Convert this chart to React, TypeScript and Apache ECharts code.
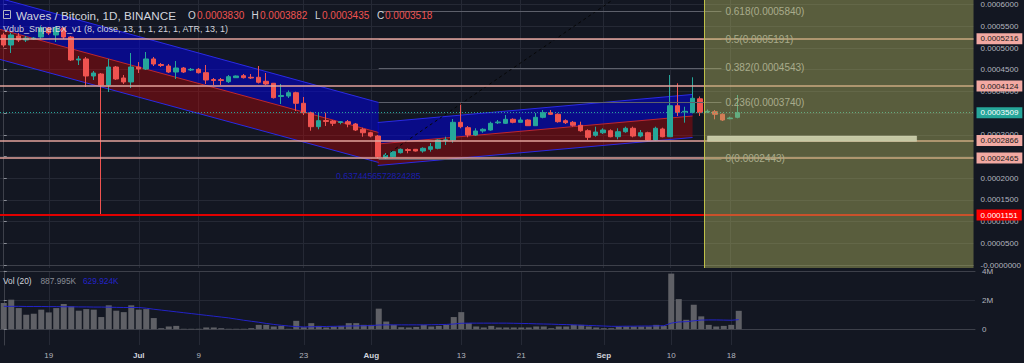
import React, { useEffect, useRef } from 'react';
import * as echarts from 'echarts';

// ---------- data ----------
const N_DAYS = 130;
const START_UTC = Date.UTC(2018, 5, 13);
const categories: string[] = Array.from({ length: N_DAYS }, (_, i) =>
  new Date(START_UTC + i * 86400000).toISOString().slice(0, 10)
);

const tickDates = ['2018-06-19', '2018-07-01', '2018-07-09', '2018-07-23', '2018-08-01', '2018-08-13', '2018-08-21', '2018-09-01', '2018-09-10', '2018-09-18'];
const tickLabels = ['19', 'Jul', '9', '23', 'Aug', '13', '21', 'Sep', '10', '18'];
const monthLabels = ['Jul', 'Aug', 'Sep'];

// [open, close, low, high]
const ohlc: number[][] = [
  [0.0005300, 0.0005069, 0.0005023, 0.0005346],
  [0.0005069, 0.0005300, 0.0004885, 0.0005346],
  [0.0005276, 0.0005184, 0.0005138, 0.0005346],
  [0.0005184, 0.0005230, 0.0005138, 0.0005276],
  [0.0005207, 0.0005230, 0.0005184, 0.0005253],
  [0.0005253, 0.0005461, 0.0005207, 0.0005507],
  [0.0005461, 0.0005346, 0.0005300, 0.0005484],
  [0.0005300, 0.0005461, 0.0005138, 0.0005507],
  [0.0005461, 0.0005253, 0.0005207, 0.0005484],
  [0.0005253, 0.0004724, 0.0004700, 0.0005276],
  [0.0004724, 0.0004747, 0.0004608, 0.0004816],
  [0.0004747, 0.0004355, 0.0004101, 0.0004793],
  [0.0004355, 0.0004424, 0.0004263, 0.0004470],
  [0.0004401, 0.0004147, 0.0001151, 0.0004424],
  [0.0004147, 0.0004562, 0.0003986, 0.0004747],
  [0.0004562, 0.0004286, 0.0004263, 0.0004585],
  [0.0004309, 0.0004217, 0.0004171, 0.0004378],
  [0.0004217, 0.0004562, 0.0004078, 0.0004885],
  [0.0004562, 0.0004516, 0.0004424, 0.0004677],
  [0.0004516, 0.0004747, 0.0004493, 0.0004908],
  [0.0004747, 0.0004631, 0.0004585, 0.0004793],
  [0.0004620, 0.0004597, 0.0004562, 0.0004654],
  [0.0004585, 0.0004447, 0.0004424, 0.0004631],
  [0.0004447, 0.0004539, 0.0004286, 0.0004700],
  [0.0004539, 0.0004447, 0.0004424, 0.0004562],
  [0.0004493, 0.0004509, 0.0004470, 0.0004539],
  [0.0004509, 0.0004431, 0.0004412, 0.0004539],
  [0.0004431, 0.0004263, 0.0004171, 0.0004608],
  [0.0004274, 0.0004251, 0.0004147, 0.0004309],
  [0.0004270, 0.0004251, 0.0004147, 0.0004309],
  [0.0004224, 0.0004339, 0.0004194, 0.0004378],
  [0.0004316, 0.0004355, 0.0004309, 0.0004366],
  [0.0004362, 0.0004316, 0.0004297, 0.0004401],
  [0.0004325, 0.0004309, 0.0004286, 0.0004401],
  [0.0004325, 0.0004210, 0.0004182, 0.0004585],
  [0.0004233, 0.0004171, 0.0004147, 0.0004424],
  [0.0004187, 0.0003855, 0.0003836, 0.0004194],
  [0.0003882, 0.0003906, 0.0003710, 0.0004171],
  [0.0003894, 0.0003970, 0.0003848, 0.0004021],
  [0.0003970, 0.0003726, 0.0003548, 0.0003993],
  [0.0003726, 0.0003509, 0.0003456, 0.0003871],
  [0.0003509, 0.0003187, 0.0003094, 0.0003532],
  [0.0003187, 0.0003325, 0.0003127, 0.0003509],
  [0.0003329, 0.0003306, 0.0003203, 0.0003509],
  [0.0003318, 0.0003265, 0.0003203, 0.0003341],
  [0.0003283, 0.0003302, 0.0003242, 0.0003318],
  [0.0003302, 0.0003249, 0.0003173, 0.0003341],
  [0.0003249, 0.0003111, 0.0003088, 0.0003272],
  [0.0003127, 0.0003048, 0.0002956, 0.0003164],
  [0.0003048, 0.0002972, 0.0002942, 0.0003071],
  [0.0002972, 0.0002495, 0.0002460, 0.0002995],
  [0.0002470, 0.0002535, 0.0002443, 0.0002581],
  [0.0002495, 0.0002611, 0.0002477, 0.0002638],
  [0.0002588, 0.0002666, 0.0002569, 0.0002684],
  [0.0002661, 0.0002638, 0.0002574, 0.0002689],
  [0.0002666, 0.0002627, 0.0002615, 0.0002673],
  [0.0002627, 0.0002689, 0.0002588, 0.0002712],
  [0.0002666, 0.0002726, 0.0002611, 0.0002811],
  [0.0002689, 0.0002880, 0.0002666, 0.0002896],
  [0.0002869, 0.0002885, 0.0002765, 0.0002956],
  [0.0002880, 0.0003288, 0.0002818, 0.0003364],
  [0.0003288, 0.0003187, 0.0003150, 0.0003726],
  [0.0003164, 0.0002995, 0.0002942, 0.0003203],
  [0.0002995, 0.0003088, 0.0002972, 0.0003150],
  [0.0003088, 0.0003127, 0.0003048, 0.0003150],
  [0.0003111, 0.0003265, 0.0003094, 0.0003302],
  [0.0003276, 0.0003295, 0.0003249, 0.0003341],
  [0.0003265, 0.0003357, 0.0003249, 0.0003456],
  [0.0003357, 0.0003288, 0.0003265, 0.0003380],
  [0.0003288, 0.0003341, 0.0003279, 0.0003403],
  [0.0003341, 0.0003210, 0.0003203, 0.0003357],
  [0.0003210, 0.0003403, 0.0003203, 0.0003502],
  [0.0003403, 0.0003509, 0.0003380, 0.0003571],
  [0.0003509, 0.0003472, 0.0003456, 0.0003571],
  [0.0003472, 0.0003302, 0.0003279, 0.0003495],
  [0.0003325, 0.0003279, 0.0003249, 0.0003357],
  [0.0003288, 0.0003219, 0.0003187, 0.0003318],
  [0.0003219, 0.0003094, 0.0003071, 0.0003302],
  [0.0003094, 0.0002942, 0.0002880, 0.0003127],
  [0.0002988, 0.0003064, 0.0002956, 0.0003187],
  [0.0003048, 0.0003111, 0.0003018, 0.0003150],
  [0.0003094, 0.0002956, 0.0002942, 0.0003127],
  [0.0002956, 0.0003071, 0.0002896, 0.0003150],
  [0.0003071, 0.0003150, 0.0003048, 0.0003187],
  [0.0003150, 0.0002972, 0.0002942, 0.0003187],
  [0.0002972, 0.0003048, 0.0002942, 0.0003111],
  [0.0003048, 0.0002880, 0.0002865, 0.0003071],
  [0.0002880, 0.0003150, 0.0002865, 0.0003187],
  [0.0003134, 0.0002956, 0.0002942, 0.0003164],
  [0.0002956, 0.0003670, 0.0002949, 0.0004378],
  [0.0003670, 0.0003518, 0.0003433, 0.0004187],
  [0.0003525, 0.0003541, 0.0003279, 0.0003647],
  [0.0003518, 0.0003841, 0.0003495, 0.0004325],
  [0.0003830, 0.0003518, 0.0003435, 0.0003882],
  [0.0003525, 0.0003541, 0.0003502, 0.0003583],
  [0.0003532, 0.0003472, 0.0003357, 0.0003571],
  [0.0003472, 0.0003341, 0.0003318, 0.0003495],
  [0.0003371, 0.0003387, 0.0003357, 0.0003417],
  [0.0003403, 0.0003509, 0.0003380, 0.0003917],
];

const volume: number[] = [
  1810000, 2040000, 1460000, 1000000, 1070000, 1350000, 1160000, 1460000, 1740000, 1580000,
  1280000, 1390000, 1350000, 840000, 1650000, 1280000, 1180000, 1650000, 1350000, 1390000,
  770000, 70000, 190000, 230000, 30000, 30000, 30000, 120000, 120000, 70000,
  30000, 30000, 30000, 70000, 300000, 300000, 190000, 230000, 30000, 580000,
  140000, 420000, 230000, 120000, 190000, 230000, 420000, 420000, 300000, 300000,
  1420000, 530000, 300000, 140000, 120000, 160000, 300000, 190000, 230000, 300000,
  840000, 1180000, 420000, 190000, 120000, 230000, 120000, 120000, 120000, 120000,
  120000, 190000, 190000, 70000, 190000, 190000, 300000, 300000, 190000, 120000,
  70000, 70000, 190000, 190000, 190000, 190000, 190000, 300000, 230000, 3840000,
  2080000, 650000, 1690000, 887995, 300000, 190000, 230000, 300000, 1270000,
];

const volumeMA: number[] = [
  1580000, 1580000, 1580000, 1570000, 1570000, 1570000, 1560000, 1560000, 1550000, 1550000,
  1540000, 1540000, 1530000, 1530000, 1520000, 1510000, 1500000, 1500000, 1500000, 1450000,
  1380000, 1320000, 1260000, 1200000, 1140000, 1080000, 1020000, 960000, 900000, 840000,
  780000, 700000, 620000, 550000, 480000, 400000, 330000, 270000, 220000, 180000,
  160000, 170000, 180000, 190000, 200000, 210000, 220000, 230000, 240000, 250000,
  290000, 300000, 300000, 300000, 300000, 300000, 300000, 310000, 320000, 330000,
  360000, 410000, 420000, 420000, 420000, 420000, 420000, 420000, 410000, 400000,
  390000, 370000, 360000, 350000, 330000, 320000, 300000, 280000, 260000, 240000,
  220000, 200000, 200000, 210000, 210000, 220000, 220000, 230000, 240000, 420000,
  500000, 520000, 580000, 629924, 640000, 640000, 630000, 620000, 660000,
];

const priceTicks = [0, 0.00005, 0.0001, 0.00015, 0.0002, 0.00025, 0.0003, 0.00035, 0.0004, 0.00045, 0.0005, 0.00055, 0.0006];
const volumeTicks = [0, 2000000, 4000000];
const priceMin = -0.0000069;
const priceMax = 0.0006106;
const volumeMin = -1090000;
const volumeMax = 4020000;

const salmonLevels = [0.0005216, 0.0004124, 0.0002866, 0.0002465];
const supportLevel = 0.0001151;
const lastPrice = 0.0003509;

// regression channels: [xStart, xEnd, topStart, midStart, botStart, topEnd, midEnd, botEnd]
const channels: number[][] = [
  [-0.5, 50.07, 0.0006143, 0.0005429, 0.0004737, 0.0003744, 0.0003053, 0.0002362],
  [49.94, 91.98, 0.0003283, 0.0002788, 0.0002293, 0.0003929, 0.0003433, 0.0002938],
];

const fibRatios = ['0', '0.236', '0.382', '0.5', '0.618'];
const fibPrices = [0.0002443, 0.0003740, 0.0004543, 0.0005191, 0.0005840];
const fibStart = 50.07;
const fibEnd = 95.84;
const trendLine = [[50.3, 0.0002443], [92, 0.0007372]];
const fibBox = [[93.58, 129.5, priceMin, priceMax]];
const highlightZone = [[93.97, 121.9, 0.000285, 0.000297]];

const gridTickIdx = tickDates.map((d) => categories.indexOf(d));
const X_MIN = -0.5;
const X_MAX = N_DAYS - 0.5;
// an off-screen anchor point so that marker-only series have dimensions
const anchorPoint = [[-100, -1e9]];

// ---------- styles ----------
const BG = '#131722';
const FONT = '"Liberation Sans", Arial, sans-serif';
const GRID_LINE = '#252935';
const AXIS_TEXT = '#b2b5be';

const fmtPrice = (v: number) => (Math.abs(v) < 1e-12 ? '-0.0000000' : v.toFixed(7));

function buildOption() {
  const tag = (bg: string, fg: string) => ({
    show: true,
    position: 'end',
    distance: 3,
    backgroundColor: bg,
    color: fg,
    fontSize: 8,
    fontFamily: FONT,
    padding: [2, 4, 1, 4],
  });

  const hLine = (v: number, lineStyle: any, label: any) => [
    { coord: [X_MIN, v], lineStyle, label },
    { coord: [X_MAX, v] },
  ];

  const levelData: any[] = [
    ...salmonLevels.map((v) =>
      hLine(v, { color: '#e3a39c', width: 1.6, type: 'solid' }, { ...tag('#f2a9a2', '#1b1b1b'), formatter: fmtPrice(v) })
    ),
    hLine(lastPrice, { color: '#26a69a', width: 1, type: [1, 2] }, { ...tag('#26a69a', '#ffffff'), formatter: fmtPrice(lastPrice) }),
    hLine(supportLevel, { color: '#e00000', width: 2, type: 'solid' }, { ...tag('#ff0000', '#ffffff'), formatter: fmtPrice(supportLevel) }),
  ];

  const fibData = fibPrices.map((p, i) => [
    { name: `${fibRatios[i]}(${p.toFixed(7)})`, coord: [fibStart, p] },
    { coord: [fibEnd, p] },
  ]);

  const vGridSeries = (xIdx: number, yIdx: number, lo: number, hi: number) => ({
    type: 'custom', xAxisIndex: xIdx, yAxisIndex: yIdx, z: 0, silent: true,
    data: gridTickIdx.map((i) => [i, lo, hi]),
    encode: { x: 0, y: [1, 2] },
    renderItem: (params: any, api: any) => {
      const a = api.coord([api.value(0), api.value(1)]);
      const b = api.coord([api.value(0), api.value(2)]);
      const x = Math.round(a[0]) + 0.5;
      return {
        type: 'line',
        shape: { x1: x, y1: a[1], x2: x, y2: b[1] },
        style: { stroke: GRID_LINE, lineWidth: 1 },
      };
    },
  });

  return {
    animation: false,
    backgroundColor: BG,
    textStyle: { fontFamily: FONT },
    grid: [
      { left: -2.2, right: 49, top: 0, height: 268 },
      { left: -2.2, right: 49, top: 271, height: 74 },
    ],
    xAxis: [
      {
        type: 'category', gridIndex: 0, data: categories, boundaryGap: true,
        axisLabel: { show: false }, axisTick: { show: false },
        axisLine: { show: true, lineStyle: { color: '#3d404a', width: 1 } },
        splitLine: { show: false },
      },
      { type: 'value', gridIndex: 0, min: X_MIN, max: X_MAX, show: false },
      {
        type: 'category', gridIndex: 1, data: categories, boundaryGap: true,
        axisTick: { show: false },
        axisLine: { show: true, lineStyle: { color: '#3d404a', width: 1 } },
        splitLine: { show: false },
        axisLabel: {
          interval: (idx: number) => gridTickIdx.indexOf(idx) >= 0,
          formatter: (val: string) => {
            const k = tickDates.indexOf(val);
            if (k < 0) return '';
            const t = tickLabels[k];
            return monthLabels.indexOf(t) >= 0 ? `{b|${t}}` : t;
          },
          color: AXIS_TEXT, fontSize: 8, margin: 6, fontFamily: FONT,
          rich: { b: { fontWeight: 'bold', color: '#d1d4dc', fontSize: 8, fontFamily: FONT } },
        },
      },
      {
        type: 'value', gridIndex: 1, min: X_MIN, max: X_MAX, position: 'top',
        axisLine: { show: true, lineStyle: { color: '#3d404a', width: 1 } },
        axisLabel: { show: false }, axisTick: { show: false }, splitLine: { show: false },
      },
    ],
    yAxis: [
      {
        type: 'value', gridIndex: 0, position: 'right', min: priceMin, max: priceMax,
        axisLine: { show: true, lineStyle: { color: '#3d404a' } },
        axisTick: { show: true, length: 3, customValues: priceTicks, lineStyle: { color: '#8a8d96' } },
        axisLabel: { customValues: priceTicks, formatter: fmtPrice, color: AXIS_TEXT, fontSize: 8, margin: 7, fontFamily: FONT },
        splitLine: { show: true, lineStyle: { color: GRID_LINE } },
      },
      {
        type: 'value', gridIndex: 1, position: 'right', min: volumeMin, max: volumeMax,
        axisLine: { show: true, lineStyle: { color: '#3d404a' } },
        axisTick: { show: true, length: 3, customValues: volumeTicks, lineStyle: { color: '#8a8d96' } },
        axisLabel: {
          customValues: volumeTicks,
          formatter: (v: number) => (v === 0 ? '0' : `${v / 1000000}M`),
          color: AXIS_TEXT, fontSize: 8, margin: 7, fontFamily: FONT,
        },
        splitLine: { show: true, lineStyle: { color: GRID_LINE } },
      },
    ],
    series: [
      vGridSeries(1, 0, priceMin, priceMax),
      vGridSeries(3, 1, volumeMin, volumeMax),
      {
        type: 'custom', xAxisIndex: 1, yAxisIndex: 0, z: 1, silent: true,
        data: channels,
        encode: { x: [0, 1], y: [2, 3, 4, 5, 6, 7] },
        renderItem: (params: any, api: any) => {
          const x0 = api.value(0);
          const x1 = api.value(1);
          const t0 = api.coord([x0, api.value(2)]);
          const m0 = api.coord([x0, api.value(3)]);
          const b0 = api.coord([x0, api.value(4)]);
          const t1 = api.coord([x1, api.value(5)]);
          const m1 = api.coord([x1, api.value(6)]);
          const b1 = api.coord([x1, api.value(7)]);
          const seg = (a: number[], b: number[], c: string) => ({
            type: 'line',
            shape: { x1: a[0], y1: a[1], x2: b[0], y2: b[1] },
            style: { stroke: c, lineWidth: 1 },
          });
          return {
            type: 'group',
            children: [
              { type: 'polygon', shape: { points: [t0, t1, m1, m0] }, style: { fill: 'rgba(0,0,235,0.5)' } },
              { type: 'polygon', shape: { points: [m0, m1, b1, b0] }, style: { fill: 'rgba(220,0,0,0.34)' } },
              seg(t0, t1, '#2a2ae6'),
              seg(m0, m1, '#c0262e'),
              seg(b0, b1, '#2a2ae6'),
            ],
          };
        },
      },
      {
        type: 'candlestick', xAxisIndex: 0, yAxisIndex: 0, z: 3,
        data: ohlc, barWidth: 5,
        itemStyle: { color: '#26a69a', color0: '#ef5350', borderColor: '#26a69a', borderColor0: '#ef5350', borderWidth: 1 },
      },
      {
        type: 'line', xAxisIndex: 1, yAxisIndex: 0, z: 4, silent: true,
        data: trendLine, symbol: 'none',
        lineStyle: { color: '#060606', width: 1, type: [3, 3] },
        markLine: {
          silent: true, symbol: 'none',
          lineStyle: { color: '#5d606b', width: 1, type: 'solid' },
          label: {
            show: true, position: 'end', distance: 4, formatter: (p: any) => p.name,
            color: '#a3a6af', fontSize: 10, fontFamily: FONT,
          },
          data: fibData,
        },
      },
      {
        type: 'custom', xAxisIndex: 1, yAxisIndex: 0, z: 6, silent: true,
        data: fibBox,
        encode: { x: [0, 1], y: [2, 3] },
        renderItem: (params: any, api: any) => {
          const p0 = api.coord([api.value(0), api.value(3)]);
          const p1 = api.coord([api.value(1), api.value(2)]);
          return {
            type: 'group',
            children: [
              { type: 'rect', shape: { x: p0[0], y: p0[1], width: p1[0] - p0[0], height: p1[1] - p0[1] }, style: { fill: 'rgba(175,180,95,0.45)' } },
              { type: 'line', shape: { x1: p0[0], y1: p0[1], x2: p0[0], y2: p1[1] }, style: { stroke: '#c2c24a', lineWidth: 1 } },
            ],
          };
        },
      },
      {
        type: 'custom', xAxisIndex: 1, yAxisIndex: 0, z: 9, silent: true,
        data: highlightZone,
        encode: { x: [0, 1], y: [2, 3] },
        renderItem: (params: any, api: any) => {
          const p0 = api.coord([api.value(0), api.value(3)]);
          const p1 = api.coord([api.value(1), api.value(2)]);
          return {
            type: 'rect',
            shape: { x: p0[0], y: p0[1], width: p1[0] - p0[0], height: p1[1] - p0[1] },
            style: { fill: '#c4c7a3', stroke: '#d6d8b8', lineWidth: 0.5 },
          };
        },
      },
      {
        type: 'line', xAxisIndex: 1, yAxisIndex: 0, data: anchorPoint, symbol: 'none', z: 8, silent: true,
        markLine: { silent: true, symbol: 'none', data: levelData },
      },
      {
        type: 'bar', xAxisIndex: 2, yAxisIndex: 1, data: volume, barWidth: 6,
        itemStyle: { color: '#5f6066' }, z: 2,
      },
      {
        type: 'line', xAxisIndex: 2, yAxisIndex: 1, data: volumeMA, symbol: 'none', z: 3,
        lineStyle: { color: '#2323c8', width: 1 },
      },
    ],
    graphic: [
      { type: 'rect', z: 50, shape: { x: 3.5, y: 10.5, width: 7, height: 8 }, style: { fill: 'none', stroke: '#b2b5be', lineWidth: 1 } },
      { type: 'line', z: 50, shape: { x1: 5, y1: 14.5, x2: 9, y2: 14.5 }, style: { stroke: '#b2b5be', lineWidth: 1 } },
      { type: 'text', z: 50, x: 16, y: 15.5, style: { text: 'Waves / Bitcoin, 1D, BINANCE', fill: '#d1d4dc', font: `11.7px ${FONT}`, verticalAlign: 'middle' } },
      { type: 'text', z: 50, x: 188, y: 15.5, style: { text: 'O', fill: '#d1d4dc', font: `10px ${FONT}`, verticalAlign: 'middle' } },
      { type: 'text', z: 50, x: 197, y: 15.5, style: { text: '0.0003830', fill: '#ef5350', font: `10px ${FONT}`, verticalAlign: 'middle' } },
      { type: 'text', z: 50, x: 251.5, y: 15.5, style: { text: 'H', fill: '#d1d4dc', font: `10px ${FONT}`, verticalAlign: 'middle' } },
      { type: 'text', z: 50, x: 260, y: 15.5, style: { text: '0.0003882', fill: '#ef5350', font: `10px ${FONT}`, verticalAlign: 'middle' } },
      { type: 'text', z: 50, x: 315, y: 15.5, style: { text: 'L', fill: '#d1d4dc', font: `10px ${FONT}`, verticalAlign: 'middle' } },
      { type: 'text', z: 50, x: 322, y: 15.5, style: { text: '0.0003435', fill: '#ef5350', font: `10px ${FONT}`, verticalAlign: 'middle' } },
      { type: 'text', z: 50, x: 377, y: 15.5, style: { text: 'C', fill: '#d1d4dc', font: `10px ${FONT}`, verticalAlign: 'middle' } },
      { type: 'text', z: 50, x: 385, y: 15.5, style: { text: '0.0003518', fill: '#ef5350', font: `10px ${FONT}`, verticalAlign: 'middle' } },
      { type: 'text', z: 50, x: 3, y: 29, style: { text: 'Vdub_SniperBX_v1 (8, close, 13, 1, 1, 21, 1, ATR, 13, 1)', fill: '#d1d4dc', font: `9px ${FONT}`, verticalAlign: 'middle' } },
      { type: 'text', z: 50, x: 336, y: 176, style: { text: '0.6374456572824285', fill: '#1c1cad', font: `8.7px ${FONT}`, verticalAlign: 'middle' } },
      { type: 'text', z: 50, x: 3, y: 281, style: { text: 'Vol (20)', fill: '#d1d4dc', font: `8.3px ${FONT}`, verticalAlign: 'middle' } },
      { type: 'text', z: 50, x: 40.5, y: 281, style: { text: '887.995K', fill: '#8a8d96', font: `8.3px ${FONT}`, verticalAlign: 'middle' } },
      { type: 'text', z: 50, x: 83, y: 281, style: { text: '629.924K', fill: '#2323c8', font: `8.3px ${FONT}`, verticalAlign: 'middle' } },
    ],
  };
}

export default function App() {
  const ref = useRef<HTMLDivElement>(null);
  useEffect(() => {
    const chart = echarts.init(ref.current as HTMLDivElement, null, { renderer: 'svg' });
    chart.setOption(buildOption() as any);
    return () => chart.dispose();
  }, []);
  return (
    <div
      ref={ref}
      style={{ position: 'absolute', left: 0, top: 0, width: 1024, height: 363, background: BG }}
    />
  );
}
